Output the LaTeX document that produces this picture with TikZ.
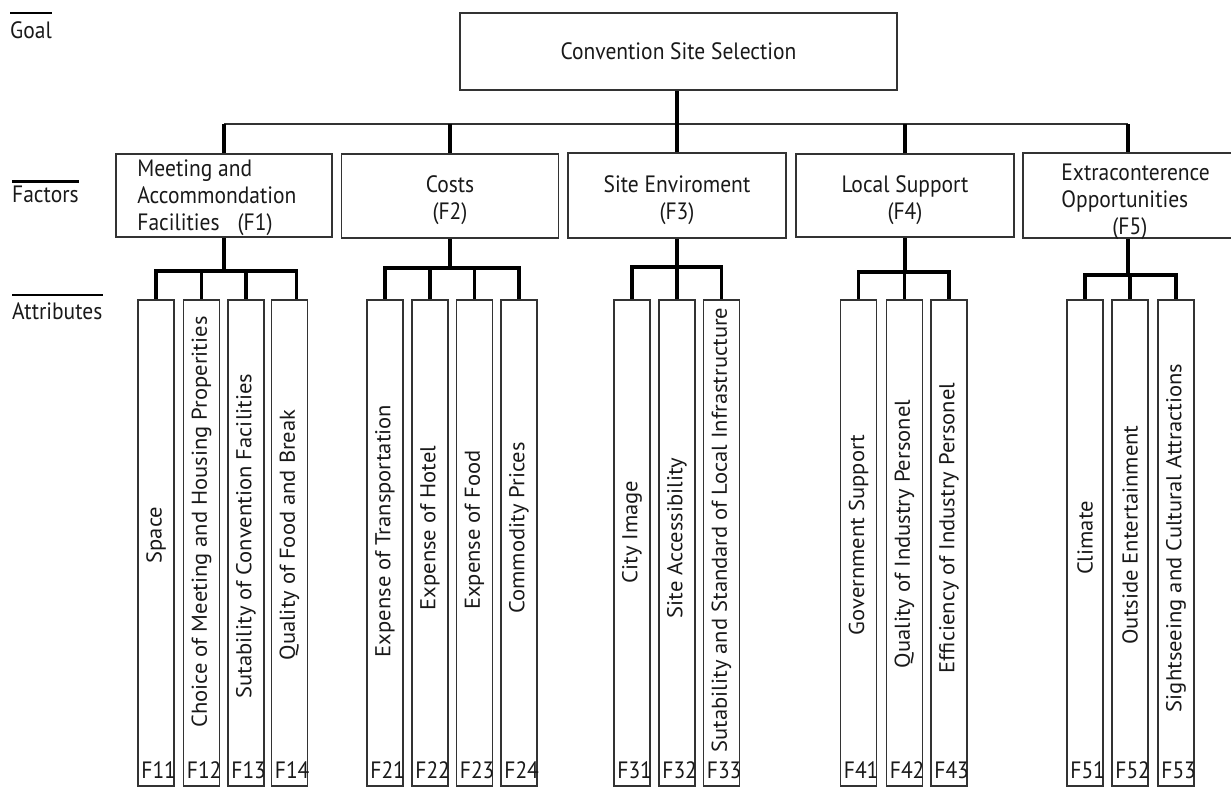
\documentclass[tikz,border=0pt]{standalone}
\usepackage{fontspec}
\setmainfont{PT Sans}
\usetikzlibrary{calc}
\newcommand{\vstr}[1]{\scalebox{1}[1.1]{#1}}
\newcommand{\hstr}[1]{\scalebox{1.05}[1]{#1}}
\newcommand{\lines}[2]{\vstr{\begin{tabular}{@{}#1@{}}#2\end{tabular}}}
\begin{document}
\begin{tikzpicture}[x=1pt,y=-1pt,
  box/.style={draw=black!80, line width=1.6pt, inner sep=0pt, font=\fontsize{21.5}{24.5}\selectfont, text=black!90},
  fbox/.style={box, minimum height=84pt},
  abox/.style={box, minimum width=36pt, minimum height=486pt},
  conn/.style={draw=black, line width=3.2pt},
  topbar/.style={draw=black!80, line width=2pt},
  txt/.style={inner sep=0pt, font=\fontsize{21.5}{24.5}\selectfont, text=black!90},
  ovl/.style={draw=black, line width=2.8pt},
]
\useasboundingbox (0,0) rectangle (1231,787);

% left labels
\node[txt, anchor=base west] (lgoal) at (10,38) {\vstr{Goal}};
\node[txt, anchor=base west] (lfac) at (12,202) {\vstr{Factors}};
\node[txt, anchor=base west] (latt) at (12,319) {\vstr{Attributes}};
\draw[ovl] ([yshift=8pt]lgoal.north west) -- ([yshift=8pt]lgoal.north east);
\draw[ovl] ([yshift=4pt]lfac.north west) -- ([yshift=4pt]lfac.north east);
\draw[ovl] ([yshift=7pt]latt.north west) -- ([yshift=7pt]latt.north east);

% goal
\node[box, minimum width=437pt, minimum height=77pt] (goal) at (678.5,51.5) {\vstr{Convention Site Selection}};

% factors
\node[fbox, minimum width=216pt, minimum height=83pt] (f1) at (224,195.5) {};
\node[fbox, minimum width=217pt] (f2) at (450,196) {};
\node[fbox, minimum width=218pt, minimum height=85pt] (f3) at (677,195.5) {};
\node[fbox, minimum width=218pt, minimum height=83pt] (f4) at (905,195.5) {};
\node[fbox, minimum width=210pt, minimum height=85pt] (f5) at (1128,195.5) {};

\node[txt, anchor=west] (f1t) at ([xshift=22pt,yshift=-3pt]f1.west)
  {\lines{l}{Meeting and\\Accommondation\\Facilities\hspace{18pt}(F1)}};
\node[txt] (f2t) at ([yshift=-5pt]f2.center) {\lines{c}{Costs\\(F2)}};
\node[txt] (f3t) at ([yshift=-5pt]f3.center) {\lines{c}{Site Enviroment\\(F3)}};
\node[txt] (f4t) at ([yshift=-5pt]f4.center) {\lines{c}{Local Support\\(F4)}};
\node[txt, anchor=west] (f5t) at ([xshift=39pt,yshift=-7pt]f5.west)
  {\lines{l}{Extraconterence\\Opportunities\\\hspace*{51pt}(F5)}};

% attributes
\foreach \n/\cx/\cy/\t in {
  11/156/535/Space,
  12/201.5/522/Choice of Meeting and Housing Properities,
  13/246/536/Sutability of Convention Facilities,
  14/289.5/535/Quality of Food and Break,
  21/385/531/Expense of Transportation,
  22/430/528/Expense of Hotel,
  23/474.5/530/Expense of Food,
  24/519/528/Commodity Prices,
  31/632/532/City Image,
  32/677/538/Site Accessibility,
  33/721.5/530/Sutability and Standard of Local Infrastructure,
  41/858.5/535/Government Support,
  42/904.5/534/Quality of Industry Personel,
  43/949/528/Efficiency of Industry Personel,
  51/1085/538/Climate,
  52/1130/535/Outside Entertainment,
  53/1176/538/Sightseeing and Cultural Attractions}{
  \node[abox] (a\n) at (\cx,543) {};
  \node[txt, rotate=90] (t\n) at (\cx,\cy) {\hstr{\t}};
  \node[txt, anchor=base west] (l\n) at ($(a\n.south west)+(4,-8)$) {\vstr{F\n}};
}

% goal -> factors
\coordinate (bar) at (676,124);
\draw[topbar] (f1.north |- bar) -- (f5.north |- bar);
\draw[conn] (f3.north) -- (f3.north |- goal.south);
\foreach \f in {f1,f2,f4,f5}{
  \draw[conn] (\f.north) -- (\f.north |- bar);
}

% factor -> attributes
\coordinate (b1) at (0,271);
\coordinate (b2) at (0,268);
\coordinate (b3) at (0,267);
\coordinate (b4) at (0,272);
\coordinate (b5) at (0,275);
\coordinate (s14) at ([xshift=7pt]a14.north);

\draw[conn] (f1.south) -- (f1.south |- b1);
\draw[conn] (a11.north) -- (a11.north |- b1) -- (s14 |- b1) -- (s14);
\draw[conn] (a12.north) -- (a12.north |- b1);
\draw[conn] (a13.north) -- (a13.north |- b1);

\draw[conn] (f2.south) -- (f2.south |- b2);
\draw[conn] (a21.north) -- (a21.north |- b2) -- (a24.north |- b2) -- (a24.north);
\draw[conn] (a22.north) -- (a22.north |- b2);
\draw[conn] (a23.north) -- (a23.north |- b2);

\draw[conn] (f3.south) -- (f3.south |- b3);
\draw[conn] (a31.north) -- (a31.north |- b3) -- (a33.north |- b3) -- (a33.north);
\draw[conn] (a32.north) -- (a32.north |- b3);

\draw[conn] (f4.south) -- (f4.south |- b4);
\draw[conn] (a41.north) -- (a41.north |- b4) -- (a43.north |- b4) -- (a43.north);
\draw[conn] (a42.north) -- (a42.north |- b4);

\draw[conn] (f5.south) -- (f5.south |- b5);
\draw[conn] (a51.north) -- (a51.north |- b5) -- (a53.north |- b5) -- (a53.north);
\draw[conn] (a52.north) -- (a52.north |- b5);
\end{tikzpicture}
\end{document}
